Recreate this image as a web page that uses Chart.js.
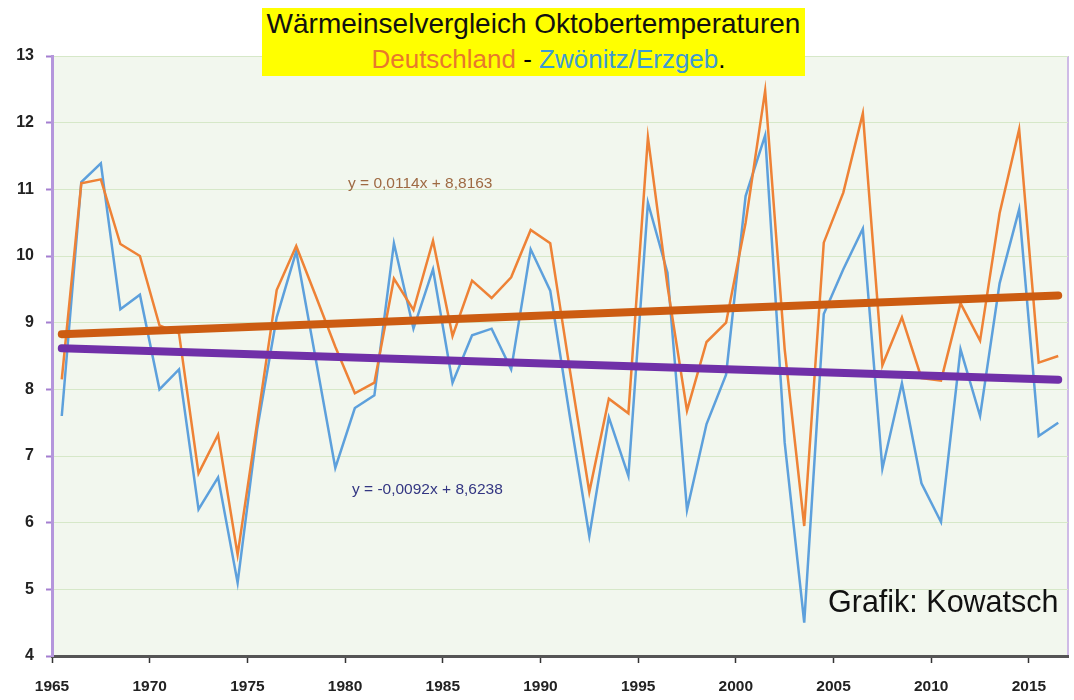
<!DOCTYPE html>
<html>
<head>
<meta charset="utf-8">
<script src="https://cdn.jsdelivr.net/npm/chart.js@4.4.1/dist/chart.umd.min.js"></script>
<style>
  body { margin: 0; background: #fff; }
  #wrap { position: relative; width: 1074px; height: 700px; font-family: "Liberation Sans", Arial, sans-serif; }
  #title {
    position: absolute; left: 262px; top: 8px; width: 543px; height: 68px;
    background: #ffff00; text-align: center; white-space: nowrap;
  }
  #title .l1 { font-size: 28px; color: #111; line-height: 32px; margin-top: 0px; }
  #title .l2 { font-size: 26px; line-height: 32px; margin-top: 3px; padding-left: 30px; }
  .de { color: #e8782c; }
  .zw { color: #3d9ad4; }
  .eq { position: absolute; font-size: 15.5px; white-space: nowrap; }
  #eq1 { left: 348px; top: 174px; color: #9e6a43; }
  #eq2 { left: 352px; top: 480px; color: #333682; }
  #credit { position: absolute; left: 828px; top: 584px; font-size: 30.5px; color: #111; white-space: nowrap; }
</style>
</head>
<body>
<div id="wrap">
  <canvas id="chart" width="1074" height="700"></canvas>
  <div id="title">
    <div class="l1">Wärmeinselvergleich Oktobertemperaturen</div>
    <div class="l2"><span class="de">Deutschland</span> - <span class="zw">Zwönitz/Erzgeb</span>.</div>
  </div>
  <div class="eq" id="eq1">y = 0,0114x + 8,8163</div>
  <div class="eq" id="eq2">y = -0,0092x + 8,6238</div>
  <div id="credit">Grafik: Kowatsch</div>
</div>
<script>
const years = Array.from({ length: 52 }, (_, i) => 1965 + i);

// Oktobertemperaturen Deutschland (°C)
const germany = [
  8.15, 11.09, 11.15, 10.18, 10.0, 8.96, 8.84, 6.74, 7.32, 5.52,
  7.5, 9.49, 10.15, 9.4, 8.64, 7.94, 8.1, 9.66, 9.19, 10.23,
  8.8, 9.63, 9.37, 9.68, 10.39, 10.19, 8.3, 6.46, 7.86, 7.64,
  11.78, 9.55, 7.68, 8.71, 9.0, 10.5, 12.48, 8.6, 5.95, 10.2,
  10.95, 12.14, 8.36, 9.08, 8.17, 8.13, 9.29, 8.73, 10.64, 11.9,
  8.4, 8.5
];

// Oktobertemperaturen Zwönitz/Erzgeb. (°C)
const zwoenitz = [
  7.6, 11.11, 11.39, 9.2, 9.42, 8.0, 8.3, 6.2, 6.68, 5.1,
  7.4, 9.08, 10.07, 8.45, 6.82, 7.72, 7.91, 10.19, 8.91, 9.8,
  8.1, 8.81, 8.91, 8.3, 10.1, 9.48, 7.6, 5.8, 7.58, 6.7,
  10.8, 9.75, 6.19, 7.48, 8.22, 10.9, 11.81, 7.2, 4.5, 9.13,
  9.8, 10.41, 6.81, 8.09, 6.59, 6.01, 8.6, 7.6, 9.59, 10.7,
  7.3, 7.5
];

// linear trends as shown on the chart: [slope, intercept], x = 1..52
const trendGermany = [0.0114, 8.8163];
const trendZwoenitz = [-0.0092, 8.6238];

const xTicks = [1965, 1970, 1975, 1980, 1985, 1990, 1995, 2000, 2005, 2010, 2015];
const yTicks = [4, 5, 6, 7, 8, 9, 10, 11, 12, 13];

// October values sit in the middle of each year slot
const toPoints = vals => vals.map((v, i) => ({ x: years[i] + 0.5, y: v }));
const trendPoints = ([m, b]) => {
  const n = years.length;
  return [
    { x: years[0] + 0.5, y: m * 1 + b },
    { x: years[n - 1] + 0.5, y: m * n + b },
  ];
};

const areaBg = {
  id: 'areaBg',
  beforeDraw(chart) {
    const { ctx, chartArea: a } = chart;
    ctx.save();
    ctx.fillStyle = '#f2f7ee';
    ctx.fillRect(a.left, a.top, a.width, a.height);
    ctx.strokeStyle = '#cfbbe6';
    ctx.lineWidth = 2;
    ctx.beginPath();
    ctx.moveTo(a.right, a.top);
    ctx.lineTo(a.right, a.bottom);
    ctx.stroke();
    ctx.restore();
  }
};

new Chart(document.getElementById('chart'), {
  type: 'line',
  data: {
    datasets: [
      {
        label: 'Deutschland',
        data: toPoints(germany),
        borderColor: '#ee8236',
        borderWidth: 2.5,
        pointRadius: 0,
        tension: 0,
        order: 1,
      },
      {
        label: 'Zwönitz/Erzgeb.',
        data: toPoints(zwoenitz),
        borderColor: '#5da0dc',
        borderWidth: 2.5,
        pointRadius: 0,
        tension: 0,
        order: 2,
      },
      {
        label: 'Trend Deutschland',
        data: trendPoints(trendGermany),
        borderColor: '#cc5c12',
        borderWidth: 8,
        borderCapStyle: 'round',
        pointRadius: 0,
        order: 0,
      },
      {
        label: 'Trend Zwönitz',
        data: trendPoints(trendZwoenitz),
        borderColor: '#7030a8',
        borderWidth: 8,
        borderCapStyle: 'round',
        pointRadius: 0,
        order: 0,
      },
    ],
  },
  options: {
    responsive: false,
    devicePixelRatio: 1,
    animation: false,
    layout: { padding: { top: 56, right: 6, left: 0, bottom: 0 } },
    plugins: {
      legend: { display: false },
      tooltip: { enabled: false },
    },
    scales: {
      x: {
        type: 'linear',
        min: 1965,
        max: 2017,
        afterBuildTicks: scale => { scale.ticks = xTicks.map(v => ({ value: v })); },
        afterFit: scale => { scale.height = 44; },
        ticks: {
          callback: v => String(v),
          color: '#222',
          padding: 14,
          maxRotation: 0,
          font: { family: '"Liberation Sans", Arial, sans-serif', size: 15.5, weight: 'bold' },
        },
        grid: { drawOnChartArea: false, tickLength: 7, tickColor: '#333', tickWidth: 1.5 },
        border: { color: '#555', width: 3 },
      },
      y: {
        min: 4,
        max: 13,
        afterBuildTicks: scale => { scale.ticks = yTicks.map(v => ({ value: v })); },
        afterFit: scale => { scale.width = 52; },
        ticks: {
          color: '#222',
          padding: 12,
          font: { family: '"Liberation Sans", Arial, sans-serif', size: 16, weight: 'bold' },
        },
        grid: { color: '#d6e8c8', lineWidth: 1, tickLength: 6, tickColor: '#a47fd0', tickWidth: 2 },
        border: { color: '#b596dc', width: 3 },
      },
    },
  },
  plugins: [areaBg],
});
</script>
</body>
</html>
